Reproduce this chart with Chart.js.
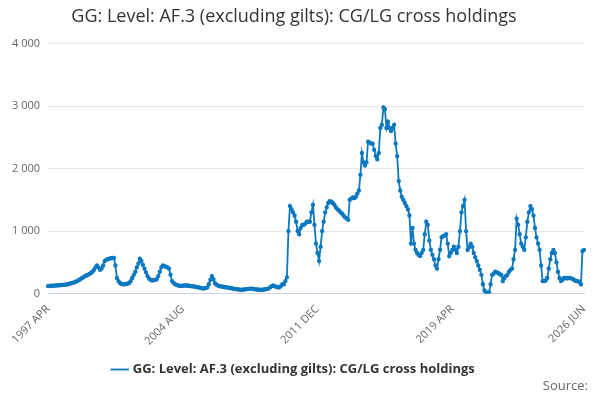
<!DOCTYPE html>
<html>
<head>
<meta charset="utf-8">
<script src="https://cdn.jsdelivr.net/npm/chart.js@4"></script>
<style>
  body { margin: 0; background: #fff; font-family: "Open Sans", sans-serif; }
  #wrap { position: relative; width: 600px; height: 400px; }
  #source { position: absolute; right: 12px; bottom: 6px; font-size: 13px; color: #666; }
</style>
</head>
<body>
<div id="wrap">
  <canvas id="chart" width="600" height="400"></canvas>
  <div id="source">Source:</div>
</div>
<script>
const seriesName = "GG: Level: AF.3 (excluding gilts): CG/LG cross holdings";
const startYear = 1997;
const startMonth = 3; // April
const monthNames = ["JAN", "FEB", "MAR", "APR", "MAY", "JUN", "JUL", "AUG", "SEP", "OCT", "NOV", "DEC"];
const values = [
  120,122,125,127,128,130,132,133,135,137,
  140,143,146,150,158,165,172,180,190,200,
  215,230,245,260,275,290,300,315,330,350,
  380,420,450,420,380,400,450,520,540,550,
  560,565,570,570,450,250,200,170,155,150,
  150,155,160,170,200,250,300,350,420,480,
  560,520,460,400,340,280,240,220,210,215,
  220,230,280,350,420,450,440,430,420,400,
  300,200,170,150,140,130,125,120,125,130,
  130,130,125,120,118,115,110,105,100,95,
  90,80,85,90,100,150,220,280,230,170,
  140,130,120,115,110,105,100,100,95,90,
  85,80,75,70,68,65,60,62,65,70,
  72,75,78,80,75,70,68,65,62,60,
  62,65,70,75,80,100,120,130,120,110,
  100,100,120,150,150,200,260,1000,1400,1350,
  1300,1250,1150,1000,950,1050,1100,1100,1120,1150,
  1150,1150,1300,1420,1100,800,650,520,750,1000,
  1150,1300,1380,1450,1480,1470,1450,1420,1380,1350,
  1330,1300,1280,1250,1220,1200,1180,1500,1520,1540,
  1530,1550,1600,1650,1900,2250,2100,2050,2100,2430,
  2420,2400,2400,2300,2200,2150,2250,2650,2700,2980,
  2950,2650,2750,2650,2600,2650,2700,2400,2200,1800,
  1650,1550,1500,1450,1400,1350,1250,800,1050,800,
  700,650,620,600,650,700,950,1150,1100,850,
  700,620,550,450,400,550,700,900,920,930,
  950,800,600,650,700,750,700,650,750,1000,
  1300,1400,1500,1000,700,750,800,750,650,580,
  520,450,380,300,150,50,20,20,20,150,
  300,320,350,340,330,310,300,200,250,280,
  300,350,380,400,550,700,1200,1100,950,800,
  750,700,900,1150,1300,1400,1350,1250,1050,900,
  800,700,450,200,200,210,250,400,550,650,
  700,650,500,350,250,200,220,250,250,240,
  250,250,240,230,210,200,200,180,150,680,
  700
];
const labels = values.map((v, i) => {
  const m = startMonth + i;
  return (startYear + Math.floor(m / 12)) + " " + monthNames[m % 12];
});
const shownTicks = [0, 88, 176, 264, values.length - 1];
const blue = "#0b78c0";

new Chart(document.getElementById("chart").getContext("2d"), {
  type: "line",
  data: {
    labels: labels,
    datasets: [{
      label: seriesName,
      data: values,
      borderColor: blue,
      backgroundColor: blue,
      borderWidth: 1.8,
      pointRadius: 1.3,
      pointHoverRadius: 3,
      tension: 0,
      fill: false
    }]
  },
  options: {
    responsive: false,
    animation: false,
    layout: { padding: { left: 4, right: 16, top: 0, bottom: 14 } },
    plugins: {
      title: {
        display: true,
        text: seriesName,
        align: "center",
        color: "#333",
        font: { family: "Open Sans", size: 18, weight: "normal" },
        padding: { top: 6, bottom: 16 }
      },
      legend: {
        position: "bottom",
        labels: {
          usePointStyle: true,
          pointStyle: "line",
          color: "#333",
          font: { family: "Open Sans", size: 13, weight: "bold" },
          padding: 12
        }
      },
      tooltip: { enabled: false }
    },
    scales: {
      x: {
        grid: { display: false, drawTicks: true, tickLength: 6, color: "#ccd6eb" },
        border: { color: "#ccd6eb" },
        ticks: {
          autoSkip: false,
          maxRotation: 45,
          minRotation: 45,
          color: "#666",
          font: { family: "Open Sans", size: 11 },
          callback: (v, i) => shownTicks.includes(i) ? labels[i] : null
        }
      },
      y: {
        min: 0,
        max: 4000,
        grid: { color: "#e6e6e6", drawTicks: false },
        border: { display: false },
        ticks: {
          stepSize: 1000,
          padding: 8,
          color: "#666",
          font: { family: "Open Sans", size: 11 },
          callback: v => v.toLocaleString("fr-FR").replace(/\u202f|\u00a0/g, " ")
        }
      }
    }
  }
});
</script>
</body>
</html>
